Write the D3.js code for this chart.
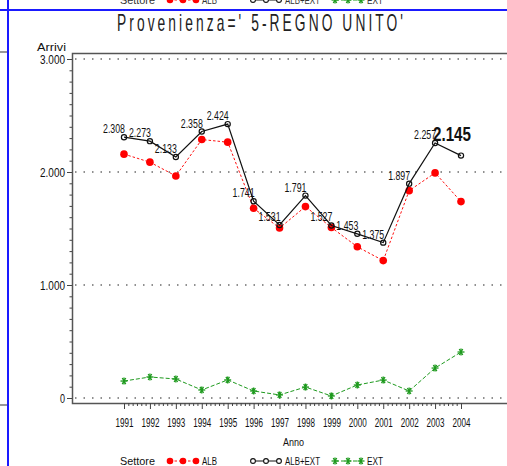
<!DOCTYPE html>
<html>
<head>
<meta charset="utf-8">
<script src="https://cdn.jsdelivr.net/npm/d3@7"></script>
<style>
  body { margin: 0; background: #fff; }
  text { font-family: "Liberation Sans", Arial, sans-serif; }
</style>
</head>
<body>
<div id="vis"></div>
<script>
// data
let years = [1991, 1992, 1993, 1994, 1995, 1996, 1997, 1998, 1999, 2000, 2001, 2002, 2003, 2004];
let alb = [2158, 2087, 1965, 2287, 2264, 1679, 1504, 1694, 1509, 1338, 1216, 1835, 1992, 1738];
let ext = [150, 186, 168, 71, 160, 62, 27, 97, 18, 115, 159, 62, 265, 407];
let tot = [2308, 2273, 2133, 2358, 2424, 1741, 1531, 1791, 1527, 1453, 1375, 1897, 2257, 2145];
let yTicks = [0, 1000, 2000, 3000];
let legendNames = ['ALB', 'ALB+EXT', 'EXT'];

let W = 507, H = 466;

let svg = d3.select('#vis')
    .append('svg')
    .attr('width', W)
    .attr('height', H)
    .attr('viewBox', [0, 0, W, H].join(' '));

let x = d3.scaleLinear().domain([1991, 2004]).range([124, 461]);
let y = d3.scaleLinear().domain([0, 3000]).range([398, 59]);

let fmt = v => d3.format(',')(v).replace(/,/g, '.');

// squeeze a text to a given width (the original font is a narrow one)
function narrow(sel, w) {
    sel.attr('textLength', w).attr('lengthAdjust', 'spacingAndGlyphs');
}

// stray bits of the screen around the graph
svg.append('line').attr('x1', 0).attr('x2', W).attr('y1', 10).attr('y2', 10)
    .attr('stroke', '#1a1aff').attr('stroke-width', 2);
svg.append('line').attr('x1', 8).attr('x2', 8).attr('y1', 0).attr('y2', H)
    .attr('stroke', '#1a1aff').attr('stroke-width', 2);
[52, 405].forEach(v => {
    svg.append('line').attr('x1', 0).attr('x2', 7).attr('y1', v).attr('y2', v)
        .attr('stroke', '#777').attr('stroke-width', 1.5);
});

// title: narrow letters, wide spacing
svg.append('text')
    .attr('transform', 'translate(117,31) scale(0.6,1)')
    .attr('textLength', 286 / 0.6).attr('lengthAdjust', 'spacing')
    .style('font-size', '23px').attr('fill', '#222')
    .text("Provenienza=' 5-REGNO UNITO'");

// grid lines
svg.append('g').selectAll('line')
    .data(yTicks)
    .join('line')
    .attr('x1', 75).attr('x2', W)
    .attr('y1', d => y(d)).attr('y2', d => y(d))
    .attr('stroke', '#222').attr('stroke-width', 1.2)
    .attr('stroke-dasharray', '1.5,7');

// frame
svg.append('path')
    .attr('d', `M${W},53.5H72.5V403.5H${W}`)
    .attr('fill', 'none').attr('stroke', '#555').attr('stroke-width', 1.5);

// y axis
let yAxis = svg.append('g').attr('transform', 'translate(72,0)')
    .call(d3.axisLeft(y).tickValues(yTicks).tickFormat(fmt).tickSize(5).tickPadding(2));
yAxis.select('.domain').remove();
yAxis.selectAll('text').style('font-size', '12.5px').attr('fill', '#111')
    .style('font-family', '"Liberation Sans", Arial, sans-serif')
    .each(function (d) { narrow(d3.select(this), fmt(d).length * 5); });
yAxis.selectAll('line').attr('stroke', '#444');

let yMinor = svg.append('g').attr('transform', 'translate(72,0)')
    .call(d3.axisLeft(y).tickValues(d3.range(0, 3001, 100).filter(v => v % 1000)).tickFormat('').tickSize(2.5));
yMinor.select('.domain').remove();
yMinor.selectAll('line').attr('stroke', '#444');

svg.append('text')
    .attr('x', 66).attr('y', 51).attr('text-anchor', 'end')
    .style('font-size', '11.5px').attr('fill', '#111')
    .text('Arrivi')
    .call(narrow, 29);

// x axis
let xAxis = svg.append('g').attr('transform', 'translate(0,403)')
    .call(d3.axisBottom(x).tickValues(years).tickFormat(d3.format('d')).tickSize(6).tickPadding(9));
xAxis.select('.domain').remove();
xAxis.selectAll('line').attr('stroke', '#444');
xAxis.selectAll('text').style('font-size', '12px').attr('fill', '#111')
    .style('font-family', '"Liberation Sans", Arial, sans-serif')
    .call(narrow, 18);

let minorX = [];
years.slice(0, -1).forEach(yr => { for (let k = 1; k < 6; k++) minorX.push(yr + k / 6); });
let xMinor = svg.append('g').attr('transform', 'translate(0,403)')
    .call(d3.axisBottom(x).tickValues(minorX).tickFormat('').tickSize(3));
xMinor.select('.domain').remove();
xMinor.selectAll('line').attr('stroke', '#444');

svg.append('text')
    .attr('x', 283).attr('y', 446)
    .style('font-size', '11px').attr('fill', '#111')
    .text('Anno')
    .call(narrow, 21);

// series
let line = d3.line().x((d, i) => x(years[i])).y(d => y(d));

function drawStar(g, cx, cy) {
    let s = g.append('g').attr('transform', `translate(${cx},${cy})`)
        .attr('stroke', '#1e9a1e').attr('stroke-width', 1.3);
    [0, 60, 120].forEach(a => {
        let r = 3.5, t = a * Math.PI / 180;
        s.append('line').attr('x1', -r * Math.cos(t)).attr('y1', -r * Math.sin(t))
            .attr('x2', r * Math.cos(t)).attr('y2', r * Math.sin(t));
    });
    s.append('line').attr('x1', 0).attr('x2', 0).attr('y1', -3.5).attr('y2', 3.5);
}

// EXT
svg.append('path').datum(ext).attr('d', line)
    .attr('fill', 'none').attr('stroke', '#1e9a1e').attr('stroke-width', 1)
    .attr('stroke-dasharray', '4,2');
let extG = svg.append('g');
ext.forEach((v, i) => drawStar(extG, x(years[i]), y(v)));

// ALB
svg.append('path').datum(alb).attr('d', line)
    .attr('fill', 'none').attr('stroke', '#ff1010').attr('stroke-width', 1)
    .attr('stroke-dasharray', '2.5,2');
svg.append('g').selectAll('circle')
    .data(alb)
    .join('circle')
    .attr('cx', (d, i) => x(years[i])).attr('cy', d => y(d))
    .attr('r', 3.8).attr('fill', '#ff0000');

// ALB+EXT
svg.append('path').datum(tot).attr('d', line)
    .attr('fill', 'none').attr('stroke', '#111').attr('stroke-width', 1.2);
svg.append('g').selectAll('circle')
    .data(tot)
    .join('circle')
    .attr('cx', (d, i) => x(years[i])).attr('cy', d => y(d))
    .attr('r', 2.6).attr('fill', 'none').attr('stroke', '#111').attr('stroke-width', 1.2);

// point labels (the last one is drawn big, as in the original)
svg.append('g').selectAll('text')
    .data(tot.slice(0, -1))
    .join('text')
    .attr('x', (d, i) => x(years[i]) + 1).attr('y', d => y(d) - 4)
    .attr('text-anchor', 'end')
    .style('font-size', '12px').attr('fill', '#111')
    .text(fmt)
    .call(narrow, 22);

svg.append('text')
    .attr('x', 433).attr('y', 141)
    .style('font-size', '21px').style('font-weight', 'bold').attr('fill', '#111')
    .text(fmt(tot[tot.length - 1]))
    .call(narrow, 38);

// legend
function legend(yy, col) {
    let g = svg.append('g');
    g.append('text').attr('x', 120).attr('y', yy).style('font-size', '11.5px')
        .attr('fill', col).text('Settore').call(narrow, 35);
    let xs = [170, 253, 335];
    let lx = [202, 285, 367];
    let lw = [15, 35, 16];
    legendNames.forEach((name, k) => {
        let cy = yy - 4;
        let x0 = xs[k];
        if (k === 0) {
            g.append('line').attr('x1', x0).attr('x2', x0 + 26).attr('y1', cy).attr('y2', cy)
                .attr('stroke', '#ff1010').attr('stroke-dasharray', '2.5,2');
            [0, 13, 26].forEach(dx => g.append('circle').attr('cx', x0 + dx).attr('cy', cy).attr('r', 3.3).attr('fill', '#ff0000'));
        } else if (k === 1) {
            g.append('line').attr('x1', x0).attr('x2', x0 + 26).attr('y1', cy).attr('y2', cy).attr('stroke', '#111');
            [0, 13, 26].forEach(dx => g.append('circle').attr('cx', x0 + dx).attr('cy', cy).attr('r', 2.4)
                .attr('fill', '#fff').attr('stroke', '#111').attr('stroke-width', 1.1));
        } else {
            g.append('line').attr('x1', x0).attr('x2', x0 + 26).attr('y1', cy).attr('y2', cy)
                .attr('stroke', '#1e9a1e').attr('stroke-dasharray', '4,2');
            [0, 13, 26].forEach(dx => drawStar(g, x0 + dx, cy));
        }
        g.append('text').attr('x', lx[k]).attr('y', yy).style('font-size', '11.5px')
            .attr('fill', col).text(name).call(narrow, lw[k]);
    });
}
legend(465, '#111');
// the same legend, cut off at the top edge of the screenshot
legend(4, '#333');
</script>
</body>
</html>
